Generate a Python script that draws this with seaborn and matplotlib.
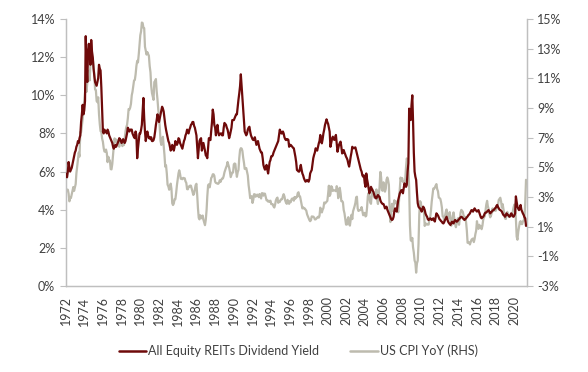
import pandas as pd
import matplotlib
matplotlib.use("Agg")
import matplotlib.pyplot as plt
import matplotlib.ticker as mticker
import seaborn as sns

# monthly data, Jan 1972 - Apr 2021
reit_yield = [
    5.9, 5.8, 5.7, 6.0, 6.5, 6.2, 6.0, 6.1, 6.2, 6.4, 6.6, 6.8,        # 1972
    7.0, 7.1, 7.3, 7.4, 7.6, 7.5, 7.75, 7.9, 8.6, 9.0, 9.5, 9.0,       # 1973
    9.2, 9.7, 13.1, 11.5, 10.7, 12.3, 12.7, 12.2, 11.6, 12.9, 12.3, 12.0,
    11.4, 11.0, 10.7, 10.6, 10.5, 10.7, 10.9, 11.6, 11.4, 11.3, 10.4, 9.2,
    8.1, 8.0, 8.2, 8.1, 8.1, 8.0, 8.2, 8.1, 7.9, 7.8, 7.7, 7.6,
    7.5, 7.3, 7.2, 7.3, 7.4, 7.3, 7.4, 7.5, 7.6, 7.75, 7.7, 7.6,
    7.5, 7.6, 7.7, 7.6, 7.5, 7.6, 7.8, 8.0, 8.3, 8.2, 8.1, 8.2,
    8.2, 8.2, 8.0, 7.9, 7.8, 7.75, 8.1, 7.9, 6.7, 7.2, 7.6, 8.0,
    8.0, 8.2, 8.45, 9.2, 9.86, 8.8, 8.1, 7.6, 7.9, 8.1, 7.9, 7.75,    # 1980
    7.8, 7.7, 7.8, 7.6, 7.6, 7.65, 7.8, 8.1, 8.45, 8.7, 9.0, 8.8,
    8.6, 8.8, 9.0, 9.2, 9.4, 9.3, 9.15, 8.8, 8.45, 8.2, 8.0, 7.8,
    7.6, 7.5, 7.3, 7.1, 7.2, 7.4, 7.3, 7.1, 7.3, 7.6, 7.5, 7.4,
    7.5, 7.75, 7.7, 7.5, 7.4, 7.3, 7.2, 7.4, 7.6, 7.7, 7.9, 8.0,
    8.2, 8.1, 8.0, 8.2, 8.3, 8.45, 8.5, 8.6, 8.6, 8.4, 8.3, 8.1,
    7.9, 7.3, 6.7, 7.2, 7.6, 7.7, 7.75, 7.1, 7.3, 7.5, 7.3, 7.1,
    6.85, 6.8, 6.7, 7.2, 7.75, 7.7, 7.65, 8.1, 8.6, 9.25, 9.0, 8.45,
    8.3, 7.9, 8.2, 8.45, 8.1, 7.9, 7.95, 8.0, 8.0, 7.9, 7.9, 8.3,
    8.55, 8.5, 8.45, 8.3, 8.2, 8.0, 7.75, 7.9, 8.1, 8.3, 8.7, 8.7,
    8.7, 8.8, 8.9, 9.0, 9.0, 9.4, 9.77, 10.1, 10.48, 11.1, 10.5, 9.9,  # 1990
    9.33, 8.7, 8.1, 8.0, 7.9, 8.0, 8.2, 8.3, 8.35, 8.1, 7.9, 7.8,
    7.7, 7.65, 7.7, 7.8, 7.6, 7.4, 7.5, 7.6, 7.4, 7.2, 7.1, 7.0,
    7.0, 6.7, 6.35, 6.2, 6.1, 6.2, 6.35, 6.1, 5.9, 6.2, 6.5, 6.6,
    6.8, 6.8, 6.85, 7.0, 7.1, 7.2, 7.3, 7.4, 7.5, 7.6, 7.9, 8.2,
    8.1, 8.0, 8.0, 8.1, 8.0, 7.8, 7.7, 7.65, 7.7, 7.7, 7.66, 7.3,
    7.4, 7.4, 7.35, 7.3, 7.25, 7.22, 7.0, 6.78, 6.5, 6.08, 6.05, 6.0,
    6.0, 6.2, 6.35, 6.1, 5.9, 5.8, 5.65, 5.55, 5.47, 5.5, 5.56, 5.5,
    5.47, 5.6, 5.9, 6.0, 6.08, 6.4, 6.7, 6.87, 7.0, 7.22, 7.15, 7.1,
    7.3, 7.48, 7.6, 7.92, 7.6, 7.48, 7.7, 8.0, 8.2, 8.44, 8.6, 8.74,
    8.6, 8.5, 8.3, 8.09, 7.3, 7.5, 7.7, 7.83, 7.7, 7.66, 7.8, 7.92,    # 2000
    7.5, 7.04, 7.2, 7.4, 7.5, 7.57, 7.3, 6.95, 7.0, 7.13, 7.0, 6.9,
    6.78, 6.7, 6.6, 6.4, 6.26, 6.5, 6.78, 7.0, 7.3, 7.25, 7.22, 7.25,
    7.27, 7.1, 6.95, 6.8, 6.6, 6.43, 6.26, 6.1, 6.0, 5.8, 5.73, 5.8,
    5.4, 5.2, 5.9, 5.6, 5.38, 5.1, 4.86, 5.0, 5.2, 5.1, 5.0, 4.95,
    4.8, 4.68, 4.6, 4.6, 4.7, 4.77, 4.7, 4.68, 4.5, 4.4, 4.34, 4.3,
    4.3, 4.2, 4.07, 4.1, 4.16, 4.0, 3.9, 3.8, 3.7, 3.6, 3.5, 3.46,
    3.5, 3.63, 3.9, 4.07, 4.0, 3.9, 4.2, 4.51, 4.7, 4.86, 4.95, 5.03,
    5.0, 4.86, 5.1, 5.38, 5.3, 5.2, 5.3, 6.0, 6.43, 9.3, 9.1, 8.7,
    9.5, 10.0, 8.7, 7.0, 6.0, 5.73, 5.56, 4.9, 4.34, 4.16, 4.1, 4.07,
    4.0, 3.9, 4.0, 4.16, 4.1, 3.98, 3.8, 3.7, 3.63, 3.5, 3.46, 3.5,    # 2010
    3.55, 3.5, 3.46, 3.5, 3.55, 3.45, 3.38, 3.6, 3.81, 3.75, 3.7, 3.6,
    3.5, 3.46, 3.4, 3.37, 3.3, 3.28, 3.35, 3.46, 3.55, 3.63, 3.5, 3.37,
    3.3, 3.25, 3.2, 3.3, 3.37, 3.3, 3.28, 3.4, 3.46, 3.4, 3.37, 3.4,
    3.46, 3.5, 3.55, 3.6, 3.63, 3.6, 3.55, 3.5, 3.46, 3.5, 3.55, 3.6,
    3.65, 3.72, 3.75, 3.81, 3.9, 3.98, 3.95, 3.9, 4.0, 4.07, 4.0, 3.95,
    3.9, 3.95, 3.98, 3.85, 3.72, 3.6, 3.55, 3.6, 3.63, 3.7, 3.81, 3.85,
    3.85, 3.9, 3.95, 3.98, 3.9, 3.81, 3.85, 3.9, 3.95, 3.98, 4.0, 4.07,
    4.1, 4.2, 4.25, 4.15, 4.07, 4.0, 3.98, 3.95, 3.9, 3.8, 3.72, 3.7,
    3.63, 3.7, 3.81, 3.75, 3.72, 3.68, 3.63, 3.7, 3.81, 3.75, 3.65, 3.63,
    3.7, 3.81, 4.7, 4.4, 4.16, 4.05, 3.98, 4.1, 4.25, 4.0, 3.9, 3.8,   # 2020
    3.72, 3.6, 3.55, 3.15,
]

us_cpi_yoy = [
    3.27, 3.51, 3.50, 3.49, 3.23, 2.71, 2.95, 2.94, 3.18, 3.42, 3.67, 3.41,   # 1972
    3.65, 3.87, 4.59, 5.06, 5.53, 5.99, 5.73, 7.38, 7.36, 7.80, 8.25, 8.71,
    9.39, 10.02, 10.39, 10.09, 10.71, 10.86, 11.51, 10.86, 11.95, 12.06, 12.20, 12.34,
    11.80, 11.23, 10.25, 10.21, 9.47, 9.39, 9.72, 8.60, 7.91, 7.44, 7.38, 6.94,
    6.72, 6.29, 6.07, 6.05, 6.20, 5.97, 5.35, 5.71, 5.49, 5.46, 4.88, 4.86,
    5.22, 5.91, 6.44, 6.95, 6.73, 6.87, 6.83, 6.62, 6.60, 6.39, 6.72, 6.70,
    6.84, 6.43, 6.55, 6.50, 6.97, 7.41, 7.70, 7.86, 8.31, 8.93, 8.89, 9.02,
    9.28, 9.86, 10.09, 10.49, 10.85, 10.89, 11.26, 11.82, 12.18, 12.07, 12.61, 13.29,
    13.91, 14.18, 14.76, 14.73, 14.41, 14.38, 13.13, 12.87, 12.60, 12.77, 12.65, 12.52,  # 1980
    11.83, 11.41, 10.49, 10.00, 9.78, 9.55, 10.76, 10.80, 10.95, 10.14, 9.59, 8.92,
    8.39, 7.62, 6.78, 6.51, 6.68, 7.06, 6.44, 5.85, 5.04, 5.14, 4.59, 3.83,
    3.71, 3.49, 3.60, 3.90, 3.55, 2.58, 2.46, 2.56, 2.86, 2.85, 3.27, 3.79,
    4.19, 4.60, 4.80, 4.56, 4.23, 4.22, 4.20, 4.29, 4.27, 4.26, 4.05, 3.95,
    3.53, 3.52, 3.70, 3.69, 3.77, 3.76, 3.55, 3.35, 3.14, 3.23, 3.51, 3.80,
    3.89, 3.11, 2.26, 1.59, 1.49, 1.77, 1.58, 1.57, 1.75, 1.47, 1.28, 1.10,
    1.46, 2.10, 3.03, 3.78, 3.86, 3.65, 3.93, 4.28, 4.36, 4.53, 4.53, 4.43,
    4.03, 3.95, 3.93, 3.90, 3.89, 3.96, 4.13, 4.02, 4.17, 4.25, 4.25, 4.42,
    4.67, 4.83, 4.98, 5.11, 5.36, 5.17, 4.98, 4.71, 4.34, 4.49, 4.66, 4.65,
    5.20, 5.26, 5.23, 4.71, 4.36, 4.67, 4.82, 5.62, 6.16, 6.29, 6.27, 6.11,   # 1990
    5.65, 5.31, 4.90, 4.89, 4.95, 4.70, 4.45, 3.80, 3.39, 2.92, 2.99, 3.06,
    2.60, 2.82, 3.19, 3.18, 3.02, 3.09, 3.16, 3.14, 2.99, 3.20, 3.05, 2.90,
    3.26, 3.25, 3.09, 3.23, 3.22, 3.00, 2.78, 2.77, 2.69, 2.75, 2.68, 2.75,
    2.52, 2.52, 2.51, 2.36, 2.29, 2.49, 2.77, 2.90, 2.96, 2.61, 2.67, 2.67,
    2.80, 2.86, 2.85, 3.05, 3.19, 3.04, 2.76, 2.62, 2.54, 2.81, 2.61, 2.54,
    2.73, 2.65, 2.84, 2.90, 2.89, 2.75, 3.00, 2.89, 3.00, 2.99, 3.26, 3.32,
    3.04, 3.03, 2.76, 2.50, 2.23, 2.30, 2.23, 2.23, 2.15, 2.08, 1.83, 1.70,
    1.57, 1.44, 1.37, 1.44, 1.69, 1.68, 1.68, 1.62, 1.49, 1.49, 1.55, 1.61,
    1.67, 1.61, 1.73, 2.28, 2.09, 1.96, 2.14, 2.26, 2.63, 2.56, 2.62, 2.68,
    2.74, 3.22, 3.76, 3.07, 3.19, 3.73, 3.66, 3.41, 3.45, 3.45, 3.45, 3.39,   # 2000
    3.73, 3.53, 2.92, 3.27, 3.62, 3.25, 2.72, 2.72, 2.65, 2.13, 1.90, 1.55,
    1.14, 1.14, 1.48, 1.64, 1.18, 1.07, 1.46, 1.80, 1.51, 2.03, 2.20, 2.38,
    2.60, 2.98, 3.02, 2.22, 2.06, 2.11, 2.11, 2.16, 2.32, 2.04, 1.77, 1.88,
    1.93, 1.69, 1.74, 2.29, 3.05, 3.27, 2.99, 2.65, 2.54, 3.19, 3.52, 3.26,
    2.97, 3.01, 3.15, 3.51, 2.80, 2.53, 3.17, 3.64, 4.69, 4.35, 3.46, 3.42,
    3.99, 3.60, 3.36, 3.55, 4.17, 4.32, 4.15, 3.82, 2.06, 1.31, 1.97, 2.54,
    2.08, 2.42, 2.78, 2.57, 2.69, 2.69, 2.36, 1.97, 2.76, 3.54, 4.31, 4.08,
    4.28, 4.03, 3.98, 3.94, 4.18, 5.02, 5.60, 5.37, 4.94, 3.66, 1.07, 0.09,
    0.03, 0.24, -0.38, -0.74, -1.28, -1.43, -2.10, -1.48, -1.29, -0.18, 1.84, 2.72,
    2.63, 2.14, 2.31, 2.24, 2.02, 1.05, 1.24, 1.15, 1.14, 1.17, 1.14, 1.50,   # 2010
    1.63, 2.11, 2.68, 3.16, 3.57, 3.56, 3.63, 3.77, 3.87, 3.53, 3.39, 2.96,
    2.93, 2.87, 2.65, 2.30, 1.70, 1.66, 1.41, 1.69, 1.99, 2.16, 1.76, 1.74,
    1.59, 1.98, 1.47, 1.06, 1.36, 1.75, 1.96, 1.52, 1.18, 0.96, 1.24, 1.50,
    1.58, 1.13, 1.51, 1.95, 2.13, 2.07, 1.99, 1.70, 1.66, 1.66, 1.32, 0.76,
    -0.09, -0.03, -0.07, -0.20, -0.04, 0.12, 0.17, 0.20, -0.04, 0.17, 0.50, 0.73,
    1.37, 1.02, 0.85, 1.13, 1.02, 1.01, 0.83, 1.06, 1.46, 1.64, 1.69, 2.07,
    2.50, 2.74, 2.38, 2.20, 1.87, 1.63, 1.73, 1.94, 2.23, 2.04, 2.20, 2.11,
    2.07, 2.21, 2.36, 2.46, 2.80, 2.87, 2.95, 2.70, 2.28, 2.52, 2.18, 1.91,
    1.55, 1.52, 1.86, 2.00, 1.79, 1.65, 1.81, 1.75, 1.71, 1.76, 2.05, 2.29,
    2.49, 2.33, 1.54, 0.33, 0.12, 0.65, 0.99, 1.31, 1.37, 1.18, 1.17, 1.36,   # 2020
    1.40, 1.68, 2.62, 4.16,
]

months = pd.date_range("1972-01-01", periods=len(us_cpi_yoy), freq="MS")
df = pd.DataFrame({"date": months, "reit": reit_yield, "cpi": us_cpi_yoy})

sns.set_style("white")
plt.rcParams["font.family"] = ["Lato", "DejaVu Sans"]

red = "#6E0A0A"
grey = "#BDBBAE"
axis_col = "#BFBFBF"
text_col = "#404040"

fig = plt.figure(figsize=(5.88, 3.72), dpi=100)
ax = fig.add_axes([0.1114, 0.2312, 0.7849, 0.7177])
ax2 = ax.twinx()

sns.lineplot(data=df, x="date", y="reit", ax=ax, color=red, lw=1.6, zorder=3)
sns.lineplot(data=df, x="date", y="cpi", ax=ax2, color=grey, lw=1.6, zorder=2)

ax.set_ylim(0, 14)
ax.set_yticks(range(0, 15, 2))
ax2.set_ylim(-3, 15)
ax2.set_yticks(range(-3, 16, 2))
ax.yaxis.set_major_formatter(mticker.FuncFormatter(lambda v, p: f"{v:.0f}%"))
ax2.yaxis.set_major_formatter(mticker.FuncFormatter(lambda v, p: f"{v:.0f}%"))

ticks = pd.date_range("1972-01-01", "2020-01-01", freq="2YS")
ax.set_xticks(ticks)
ax.set_xticklabels([str(t.year) for t in ticks], rotation=90)
ax.set_xlim(pd.Timestamp("1972-01-01"), pd.Timestamp("2021-05-10"))

for a in (ax, ax2):
    a.set_xlabel("")
    a.set_ylabel("")
    for s in a.spines.values():
        s.set_color(axis_col)
        s.set_linewidth(0.9)
    a.spines["top"].set_visible(False)
    a.tick_params(labelsize=9, colors=text_col, length=4, width=0.8)
    a.tick_params(axis="both", color=axis_col)
    a.grid(False)

ax.set_zorder(ax2.get_zorder() + 1)
ax.patch.set_visible(False)

handles = [plt.Line2D([], [], color=red, lw=1.8), plt.Line2D([], [], color=grey, lw=1.8)]
fig.legend(handles, ["All Equity REITs Dividend Yield", "US CPI YoY (RHS)"],
           loc="center", bbox_to_anchor=(0.507, 0.057), ncol=2, frameon=False,
           fontsize=9, handlelength=2.2, handletextpad=0.15, columnspacing=2.5,
           labelcolor=text_col)

fig.savefig("out.png", dpi=100)
